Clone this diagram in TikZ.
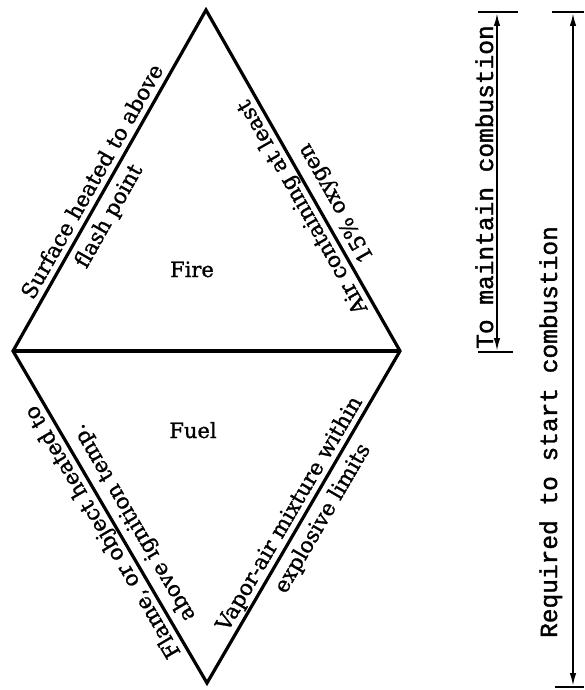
\documentclass[tikz,border=0pt]{standalone}
\usepackage{fontspec}
\usetikzlibrary{arrows.meta}
\newfontfamily\edgefont[FakeBold=1.2]{DejaVu Serif}
\newfontfamily\barfont[FakeBold=1.5]{Liberation Mono}

\begin{document}
\begin{tikzpicture}[x=1pt,y=-1pt,
  side/.style={line width=3.2pt, line join=miter},
  lbl/.style={font=\edgefont\fontsize{21.5}{25}\selectfont, inner xsep=0pt, inner ysep=1pt},
  outerline/.style={lbl, anchor=south, text height=16pt, text depth=6pt},
  innerline/.style={lbl, anchor=north, text height=22.5pt, text depth=0pt},
  region/.style={font=\edgefont\fontsize{21}{25}\selectfont, anchor=base, inner sep=0pt},
  span/.style={line width=1.8pt, {Latex[length=13pt,width=6.5pt]}-{Latex[length=13pt,width=6.5pt]}},
  tick/.style={line width=2.4pt},
  spantext/.style={font=\barfont\fontsize{24.5}{28}\selectfont, rotate=90, anchor=base, inner sep=0pt},
]
\useasboundingbox (0,0) rectangle (584,690);

% corners of the diamond
\coordinate (T) at (206,10);
\coordinate (L) at (13,351);
\coordinate (R) at (400,351);
\coordinate (B) at (207,683);

\draw[side] (T) -- (R) -- (B) -- (L) -- cycle;
\draw[side] (L) -- (R);

\node[region] (fire) at (192,277) {Fire};
\node[region] (fuel) at (193,438) {Fuel};

% labels along the four sides
\path (L) -- (T)
  node[outerline, pos=0.476, rotate=60.5] (ul1) {Surface heated to above}
  node[innerline, pos=0.42, rotate=60.5] (ul2) {flash point};
\path (T) -- (R)
  node[outerline, pos=0.558, rotate=119.6] (ur1) {Air containing at least}
  node[innerline, pos=0.591, rotate=119.6] (ur2) {15\% oxygen};
\path (L) -- (B)
  node[outerline, pos=0.524, rotate=120.3] (ll1) {Flame, or object heated to}
  node[innerline, pos=0.544, rotate=120.3] (ll2) {above ignition temp.};
\path (B) -- (R)
  node[outerline, pos=0.489, rotate=59.7] (lr1) {Vapor-air mixture within}
  node[innerline, pos=0.522, rotate=59.7] (lr2) {explosive limits};

% span of the upper triangle
\coordinate (m1) at (497,13);
\coordinate (m2) at (497,351);
\coordinate (m1a) at (478,12);
\coordinate (m1b) at (518,12);
\coordinate (m2a) at (478,352);
\coordinate (m2b) at (513,352);
\draw[span] (m1) -- (m2);
\draw[tick] (m1a) -- (m1b);
\draw[tick] (m2a) -- (m2b);
\node[spantext] (maint) at (493,187) {To maintain combustion};

% span of the whole diamond
\coordinate (s1) at (573,13);
\coordinate (s2) at (573,686);
\coordinate (s1a) at (552,12);
\coordinate (s1b) at (584,12);
\coordinate (s2a) at (555,687);
\coordinate (s2b) at (584,687);
\draw[span] (s1) -- (s2);
\draw[tick] (s1a) -- (s1b);
\draw[tick] (s2a) -- (s2b);
\node[spantext] (start) at (557,432) {Required to start combustion};
\end{tikzpicture}
\end{document}
